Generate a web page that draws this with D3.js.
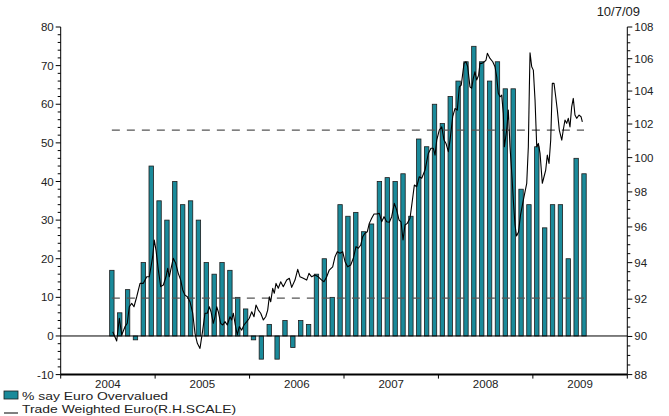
<!DOCTYPE html>
<html>
<head>
<meta charset="utf-8">
<script src="https://cdn.jsdelivr.net/npm/d3@7.9.0/dist/d3.min.js"></script>
<style>
  html, body { margin: 0; padding: 0; background: #fff; }
  svg text { font-family: "Liberation Sans", Arial, sans-serif; fill: #222; }
</style>
</head>
<body>
<div id="chart"></div>
<script>
// Survey: % saying the euro is overvalued, monthly from Jul 2004
const barStart = [2004, 6]; // year, month index of first bar
const overvalued = [
  17, 6, 12, -1, 19, 44,
  35, 30, 40, 34, 35, 30, 19, 16, 19, 17, 10, 7,
  -1, -6, 3, -6, 4, -3, 4, 3, 16, 20, 10, 34,
  31, 32, 27, 29, 40, 41, 40, 42, 31, 51, 49, 60,
  55, 62, 66, 71, 75, 71, 66, 71, 64, 64, 38, 34,
  49, 28, 34, 34, 20, 46, 42
];

// Trade weighted euro (right hand, log scale): [decimal year, index]
const tradeWeighted = [
  [2004.551, 90.25], [2004.593, 89.76], [2004.621, 90.97], [2004.646, 90.08], [2004.681, 90.52],
  [2004.705, 90.70], [2004.726, 91.59], [2004.752, 91.77], [2004.776, 91.59], [2004.805, 92.13],
  [2004.840, 92.86], [2004.875, 92.86], [2004.911, 93.22], [2004.938, 93.22], [2004.956, 93.77],
  [2004.974, 94.33], [2004.991, 95.26], [2005.009, 94.70], [2005.034, 93.59], [2005.059, 92.68],
  [2005.087, 92.77], [2005.115, 93.22], [2005.133, 93.69], [2005.150, 93.22], [2005.165, 93.59],
  [2005.192, 94.24], [2005.218, 93.96], [2005.245, 93.41], [2005.271, 93.04], [2005.292, 92.50],
  [2005.316, 92.22], [2005.341, 92.13], [2005.369, 91.86], [2005.398, 91.24], [2005.422, 90.17],
  [2005.447, 89.64], [2005.475, 89.37], [2005.504, 90.34], [2005.528, 91.24], [2005.552, 91.24],
  [2005.574, 91.59], [2005.592, 91.32], [2005.616, 90.70], [2005.634, 91.05], [2005.652, 91.59],
  [2005.669, 91.32], [2005.694, 90.70], [2005.716, 90.61], [2005.740, 90.79], [2005.764, 90.61],
  [2005.793, 91.05], [2005.811, 90.88], [2005.828, 91.24], [2005.849, 90.61], [2005.870, 90.08],
  [2005.891, 90.52], [2005.917, 90.34], [2005.941, 90.61], [2005.970, 90.79], [2005.997, 90.97],
  [2006.023, 91.32], [2006.047, 91.05], [2006.068, 91.68], [2006.093, 91.41], [2006.118, 91.24],
  [2006.146, 90.88], [2006.171, 91.05], [2006.192, 91.41], [2006.209, 92.13], [2006.224, 91.86],
  [2006.245, 92.59], [2006.262, 92.32], [2006.280, 92.86], [2006.304, 92.59], [2006.330, 92.95],
  [2006.357, 92.68], [2006.393, 93.04], [2006.421, 93.14], [2006.446, 92.64], [2006.481, 93.04],
  [2006.510, 93.63], [2006.534, 93.22], [2006.569, 93.14], [2006.605, 93.04], [2006.629, 93.41],
  [2006.658, 93.22], [2006.693, 93.32], [2006.728, 93.22], [2006.764, 93.04], [2006.788, 92.95],
  [2006.817, 93.22], [2006.844, 93.59], [2006.880, 93.77], [2006.905, 94.33], [2006.929, 94.61],
  [2006.958, 94.52], [2006.986, 94.61], [2007.011, 94.05], [2007.039, 93.77], [2007.071, 93.87],
  [2007.099, 94.24], [2007.127, 94.89], [2007.152, 94.80], [2007.177, 94.98], [2007.198, 95.45],
  [2007.222, 95.64], [2007.247, 95.73], [2007.268, 96.20], [2007.293, 96.49], [2007.318, 96.73],
  [2007.346, 96.73], [2007.374, 96.77], [2007.399, 96.29], [2007.424, 96.58], [2007.452, 96.29],
  [2007.480, 96.26], [2007.505, 96.58], [2007.533, 97.34], [2007.558, 96.96], [2007.583, 96.39],
  [2007.604, 96.29], [2007.625, 95.26], [2007.646, 96.11], [2007.670, 96.20], [2007.699, 96.49],
  [2007.720, 97.34], [2007.745, 98.40], [2007.770, 98.30], [2007.797, 98.88], [2007.823, 98.79],
  [2007.858, 99.27], [2007.893, 100.25], [2007.921, 100.55], [2007.946, 100.55], [2007.964, 100.15],
  [2007.982, 101.04], [2008.009, 101.64], [2008.035, 101.83], [2008.059, 101.04], [2008.080, 100.84],
  [2008.105, 100.35], [2008.123, 101.04], [2008.151, 102.44], [2008.176, 102.94], [2008.200, 102.84],
  [2008.221, 104.26], [2008.242, 104.37], [2008.271, 105.71], [2008.292, 105.81], [2008.310, 105.50],
  [2008.334, 104.26], [2008.352, 104.17], [2008.369, 104.78], [2008.387, 105.19], [2008.405, 104.68],
  [2008.426, 104.98], [2008.440, 105.71], [2008.461, 105.71], [2008.486, 105.81], [2008.504, 105.92],
  [2008.518, 106.34], [2008.546, 106.02], [2008.575, 105.81], [2008.599, 105.50], [2008.617, 104.88],
  [2008.634, 103.86], [2008.652, 103.65], [2008.670, 103.75], [2008.687, 102.64], [2008.698, 100.64],
  [2008.723, 101.64], [2008.740, 102.84], [2008.758, 100.64], [2008.779, 98.88], [2008.793, 97.53],
  [2008.811, 96.11], [2008.827, 95.49], [2008.848, 95.71], [2008.869, 96.67], [2008.899, 97.53],
  [2008.935, 98.50], [2008.952, 100.64], [2008.963, 104.26], [2008.970, 106.37], [2008.988, 105.50],
  [2009.005, 105.29], [2009.023, 103.45], [2009.041, 100.64], [2009.058, 100.84], [2009.076, 100.25],
  [2009.100, 98.50], [2009.118, 98.88], [2009.136, 99.27], [2009.153, 100.15], [2009.171, 99.66],
  [2009.189, 101.04], [2009.206, 104.47], [2009.224, 104.47], [2009.242, 103.65], [2009.259, 102.84],
  [2009.280, 101.64], [2009.306, 101.04], [2009.322, 101.64], [2009.340, 102.24], [2009.358, 102.04],
  [2009.375, 102.34], [2009.393, 101.83], [2009.411, 103.04], [2009.428, 103.55], [2009.446, 102.54],
  [2009.464, 102.34], [2009.489, 102.54], [2009.510, 102.44], [2009.524, 102.13]
];

// Dashed reference levels (left scale)
const refLevels = [53.3, 9.8];

// Axis ticks
const years = [2004, 2005, 2006, 2007, 2008, 2009, 2010];
const yearLabels = [2004, 2005, 2006, 2007, 2008, 2009];
const leftMajor = [-10, 0, 10, 20, 30, 40, 50, 60, 70, 80];
const rightMajor = [88, 90, 92, 94, 96, 98, 100, 102, 104, 106, 108];

const W = 669, H = 416;
const plot = { left: 60.7, right: 627.3, top: 27, bottom: 374.6 };
const teal = "#1a8a9a";

const svg = d3.select("#chart").append("svg")
  .attr("width", W)
  .attr("height", H);

const x = d3.scaleLinear().domain([2004, 2010]).range([plot.left, plot.right]);
const yL = d3.scaleLinear().domain([-10, 80]).range([plot.bottom, plot.top]);
const yR = d3.scaleLog().domain([88, 108]).range([plot.bottom, plot.top]);

const leftMinor = d3.range(-10, 80.1, 2).filter(d => d % 10 !== 0);
const rightMinor = d3.range(88, 108.01, 0.5).filter(d => d % 2 !== 0);

// Bars
const bars = overvalued.map((v, i) => ({
  t: barStart[0] + (barStart[1] + i + 0.5) / 12,
  v
}));
const bw = 4.4;

svg.append("g")
  .selectAll("rect")
  .data(bars)
  .join("rect")
  .attr("x", d => x(d.t) - bw / 2)
  .attr("y", d => Math.min(yL(d.v), yL(0)))
  .attr("width", bw)
  .attr("height", d => Math.abs(yL(d.v) - yL(0)))
  .attr("fill", teal)
  .attr("stroke", "#1c1c1c")
  .attr("stroke-width", 0.8);

// Dashed levels, spanning the survey period
const t0 = bars[0].t, t1 = bars[bars.length - 1].t;
svg.append("g")
  .selectAll("line")
  .data(refLevels)
  .join("line")
  .attr("x1", x(t0))
  .attr("x2", x(t1))
  .attr("y1", d => yL(d))
  .attr("y2", d => yL(d))
  .attr("stroke", "#555")
  .attr("stroke-width", 1.2)
  .attr("stroke-dasharray", "8,7");

// Zero line
svg.append("line")
  .attr("x1", plot.left).attr("x2", plot.right)
  .attr("y1", yL(0)).attr("y2", yL(0))
  .attr("stroke", "#000").attr("stroke-width", 1);

// Trade weighted euro line
const line = d3.line()
  .x(d => x(d[0]))
  .y(d => yR(d[1]));

svg.append("path")
  .datum(tradeWeighted)
  .attr("d", line)
  .attr("fill", "none")
  .attr("stroke", "#000")
  .attr("stroke-width", 1.1)
  .attr("stroke-linejoin", "round");

// Left axis
const gL = svg.append("g").attr("transform", `translate(${plot.left},0)`);
gL.append("line").attr("y1", plot.top).attr("y2", plot.bottom).attr("stroke", "#000");
gL.selectAll(".maj").data(leftMajor).join("line")
  .attr("x1", -5).attr("x2", 0)
  .attr("y1", d => yL(d)).attr("y2", d => yL(d))
  .attr("stroke", "#000");
gL.selectAll(".min").data(leftMinor).join("line")
  .attr("x1", -3).attr("x2", 0)
  .attr("y1", d => yL(d)).attr("y2", d => yL(d))
  .attr("stroke", "#000");
gL.selectAll("text").data(leftMajor).join("text")
  .attr("x", -7)
  .attr("y", d => yL(d))
  .attr("dy", "0.35em")
  .attr("text-anchor", "end")
  .attr("font-size", 11.5)
  .text(d => d);

// Right axis
const gR = svg.append("g").attr("transform", `translate(${plot.right},0)`);
gR.append("line").attr("y1", plot.top).attr("y2", plot.bottom).attr("stroke", "#000");
gR.selectAll(".maj").data(rightMajor).join("line")
  .attr("x1", 0).attr("x2", 5)
  .attr("y1", d => yR(d)).attr("y2", d => yR(d))
  .attr("stroke", "#000");
gR.selectAll(".min").data(rightMinor).join("line")
  .attr("x1", 0).attr("x2", 3)
  .attr("y1", d => yR(d)).attr("y2", d => yR(d))
  .attr("stroke", "#000");
gR.selectAll("text").data(rightMajor).join("text")
  .attr("x", 7)
  .attr("y", d => yR(d))
  .attr("dy", "0.35em")
  .attr("font-size", 11.5)
  .text(d => d);

// Bottom axis
const gB = svg.append("g");
gB.append("line")
  .attr("x1", plot.left).attr("x2", plot.right)
  .attr("y1", plot.bottom).attr("y2", plot.bottom)
  .attr("stroke", "#000").attr("stroke-width", 2);
gB.selectAll(".tk").data(years).join("line")
  .attr("x1", d => x(d)).attr("x2", d => x(d))
  .attr("y1", plot.bottom).attr("y2", plot.bottom + 4)
  .attr("stroke", "#000");
gB.selectAll("text").data(yearLabels).join("text")
  .attr("x", d => x(d + 0.5))
  .attr("y", plot.bottom + 13)
  .attr("text-anchor", "middle")
  .attr("font-size", 11.5)
  .text(d => d);

// Date stamp
svg.append("text")
  .attr("x", 640)
  .attr("y", 16)
  .attr("text-anchor", "end")
  .attr("font-size", 13)
  .text("10/7/09");

// Legend (text slightly stretched horizontally, like the original)
const lg = svg.append("g");
lg.append("rect")
  .attr("x", 4).attr("y", 391).attr("width", 14).attr("height", 8)
  .attr("fill", teal).attr("stroke", "#1c1c1c").attr("stroke-width", 0.8);
lg.append("text")
  .attr("transform", "translate(22,399.5) scale(1.18,1)")
  .attr("font-size", 11.8)
  .text("% say Euro Overvalued");
lg.append("line")
  .attr("x1", 4).attr("x2", 18)
  .attr("y1", 413).attr("y2", 413)
  .attr("stroke", "#000");
lg.append("text")
  .attr("transform", "translate(22,412.8) scale(1.18,1)")
  .attr("font-size", 11.8)
  .text("Trade Weighted Euro(R.H.SCALE)");
</script>
</body>
</html>
